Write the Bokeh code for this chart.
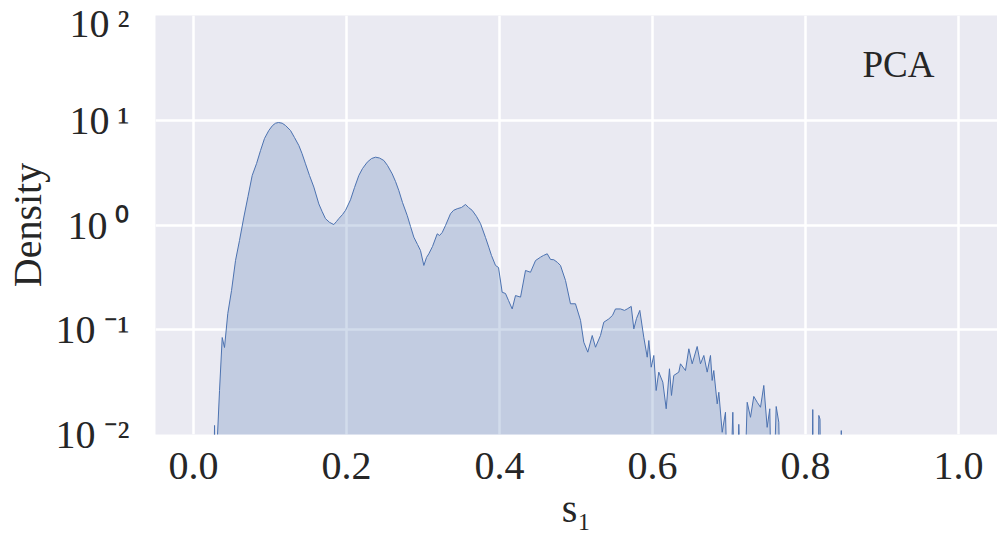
from bokeh.plotting import figure
from bokeh.models import (ColumnDataSource, FixedTicker, CustomJSTickFormatter,
                          Label, Range1d, NumeralTickFormatter)
from bokeh.embed import file_html
from bokeh.resources import INLINE

# ---- data (s1 value, density) ----
s1 = [0.0248, 0.0275, 0.0294, 0.0314, 0.0340, 0.0375, 0.0405, 0.0448, 0.0497, 0.0549,
      0.0601, 0.0658, 0.0712, 0.0767, 0.0824, 0.0876, 0.0928, 0.0984, 0.1033, 0.1072,
      0.1111, 0.1159, 0.1203, 0.1268, 0.1320, 0.1377, 0.1418, 0.1464, 0.1516, 0.1573,
      0.1638, 0.1680, 0.1725, 0.1778, 0.1834, 0.1869, 0.1899, 0.1948, 0.1987, 0.2052,
      0.2105, 0.2161, 0.2209, 0.2271, 0.2327, 0.2379, 0.2431, 0.2488, 0.2536, 0.2597,
      0.2641, 0.2684, 0.2732, 0.2794, 0.2837, 0.2880, 0.2928, 0.2967, 0.3011, 0.3046,
      0.3076, 0.3124, 0.3186, 0.3216, 0.3251, 0.3294, 0.3359, 0.3399, 0.3447, 0.3503,
      0.3556, 0.3595, 0.3643, 0.3699, 0.3752, 0.3817, 0.3860, 0.3895, 0.3948, 0.3987,
      0.4035, 0.4078, 0.4118, 0.4166, 0.4209, 0.4275, 0.4340, 0.4405, 0.4471, 0.4536,
      0.4575, 0.4624, 0.4667, 0.4710, 0.4758, 0.4797, 0.4863, 0.4928, 0.4993, 0.5059,
      0.5102, 0.5154, 0.5212, 0.5255, 0.5320, 0.5363, 0.5429, 0.5477, 0.5516, 0.5582,
      0.5634, 0.5669, 0.5722, 0.5756, 0.5791, 0.5834, 0.5886, 0.5931, 0.5952, 0.5983,
      0.6017, 0.6048, 0.6082, 0.6135, 0.6179, 0.6222, 0.6248, 0.6278, 0.6344, 0.6366,
      0.6431, 0.6475, 0.6519, 0.6584, 0.6627, 0.6671, 0.6715, 0.6758, 0.6780, 0.6801,
      0.6846, 0.6867, 0.6911, 0.6954, 0.6997, 0.7050, 0.7085, 0.7128, 0.7183, 0.7238,
      0.7281, 0.7324, 0.7369, 0.7412, 0.7455, 0.7499, 0.7533, 0.7565, 0.7617, 0.7651,
      0.7682, 0.8078, 0.8095, 0.8111, 0.8163, 0.8174, 0.8190, 0.8203, 0.8457, 0.8468,
      0.8477, 0.8719]

density = [0.001, 0.0122, 0.001, 0.0100, 0.0263, 0.0843, 0.0677, 0.143, 0.237, 0.458,
           0.711, 1.19, 1.87, 2.97, 3.86, 5.14, 6.70, 7.98, 8.91, 9.37,
           9.52, 9.37, 8.91, 7.98, 6.84, 5.74, 4.82, 3.84, 2.97, 2.30,
           1.59, 1.35, 1.15, 1.06, 1.01, 1.08, 1.15, 1.26, 1.38, 1.74,
           2.28, 2.97, 3.46, 3.98, 4.31, 4.44, 4.36, 4.13, 3.70, 3.08,
           2.60, 2.13, 1.64, 1.23, 0.968, 0.765, 0.652, 0.571, 0.411, 0.490,
           0.531, 0.623, 0.824, 0.794, 0.848, 0.989, 1.28, 1.38, 1.43, 1.47,
           1.57, 1.47, 1.38, 1.21, 1.03, 0.760, 0.614, 0.512, 0.411, 0.393,
           0.228, 0.222, 0.190, 0.158, 0.212, 0.205, 0.368, 0.354, 0.458, 0.493,
           0.512, 0.531, 0.469, 0.466, 0.439, 0.411, 0.295, 0.177, 0.177, 0.123,
           0.0760, 0.0611, 0.0881, 0.0681, 0.0881, 0.118, 0.127, 0.137, 0.158, 0.158,
           0.153, 0.158, 0.167, 0.102, 0.128, 0.153, 0.0849, 0.0547, 0.0789, 0.0439,
           0.0568, 0.0263, 0.0394, 0.0316, 0.0176, 0.0424, 0.0236, 0.0366, 0.0394, 0.0473,
           0.0408, 0.0658, 0.0473, 0.0692, 0.0473, 0.0568, 0.0394, 0.0568, 0.0328, 0.0408,
           0.0196, 0.0253, 0.0105, 0.0163, 0.001, 0.0163, 0.001, 0.0125, 0.001, 0.0203,
           0.0146, 0.0231, 0.0203, 0.0182, 0.0294, 0.0117, 0.0176, 0.001, 0.0185, 0.0131,
           0.001, 0.001, 0.0173, 0.001, 0.001, 0.0152, 0.0140, 0.001, 0.001, 0.0109,
           0.001, 0.001]

x_ticks = [0.0, 0.2, 0.4, 0.6, 0.8, 1.0]
y_ticks = [0.01, 0.1, 1, 10, 100]
panel_label = "PCA"
x_label = "s\u2081"
y_label = "Density"

FONT = "Liberation Serif"
TXT = "#262626"
BLUE = "#4c72b0"

src = ColumnDataSource(dict(x=s1, density=density, base=[1e-5] * len(s1)))

p = figure(frame_width=842, frame_height=419,
           x_range=Range1d(-0.0497, 1.0510), y_range=Range1d(0.01, 100),
           y_axis_type="log", output_backend="svg", toolbar_location=None,
           min_border_left=155, min_border_right=0,
           min_border_top=15, min_border_bottom=101)

p.background_fill_color = "#eaeaf2"
p.border_fill_color = "white"
p.outline_line_color = None

p.xgrid.ticker = FixedTicker(ticks=x_ticks)
p.ygrid.ticker = FixedTicker(ticks=y_ticks, minor_ticks=[])
p.grid.grid_line_color = "white"
p.grid.grid_line_width = 2.5

p.varea(x="x", y1="base", y2="density", source=src,
        fill_color=BLUE, fill_alpha=0.25)
p.line(x="x", y="density", source=src, line_color=BLUE, line_width=1)

p.xaxis.ticker = FixedTicker(ticks=x_ticks, minor_ticks=[])
p.xaxis.formatter = NumeralTickFormatter(format="0.0")
p.yaxis.ticker = FixedTicker(ticks=y_ticks, minor_ticks=[])
p.yaxis.formatter = CustomJSTickFormatter(code="""
const sup = {"-": "\u207b", "0": "\u2070", "1": "\u00b9", "2": "\u00b2", "3": "\u00b3",
             "4": "\u2074", "5": "\u2075", "6": "\u2076", "7": "\u2077", "8": "\u2078", "9": "\u2079"};
const e = Math.round(Math.log10(tick));
return "10\u2009" + String(e).split("").map(c => sup[c]).join("");
""")

for ax in (p.xaxis, p.yaxis):
    ax.axis_line_color = None
    ax.major_tick_line_color = None
    ax.minor_tick_line_color = None
    ax.major_label_text_font = FONT
    ax.major_label_text_font_size = "40px"
    ax.major_label_text_color = TXT
    ax.axis_label_text_font = FONT
    ax.axis_label_text_font_size = "40px"
    ax.axis_label_text_font_style = "normal"
    ax.axis_label_text_color = TXT

p.xaxis.axis_label = x_label
p.yaxis.axis_label = y_label
p.xaxis.major_label_standoff = 12
p.xaxis.axis_label_standoff = 4
p.yaxis.major_label_standoff = 20
p.yaxis.axis_label_standoff = 3

p.add_layout(Label(x=0.9216, y=34.0, text=panel_label, text_align="center",
                   text_baseline="middle", text_font=FONT,
                   text_font_size="37px", text_color=TXT))

open("out.html", "w").write(file_html(p, INLINE))
